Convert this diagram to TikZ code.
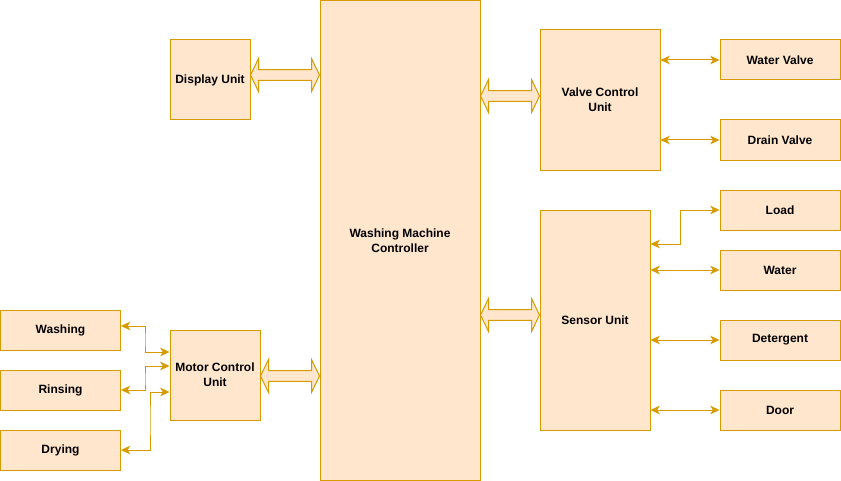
\documentclass[tikz,border=0pt]{standalone}
\usepackage{fontspec}
\setmainfont{Liberation Sans}
\usetikzlibrary{arrows.meta,calc}
\definecolor{ornline}{HTML}{D79B00}
\definecolor{ornfill}{HTML}{FFE6CC}
\begin{document}
\begin{tikzpicture}[x=0.75pt,y=-0.75pt,
    blk/.style={draw=ornline,fill=ornfill,line width=0.75pt,inner sep=0pt,align=center,
      font=\bfseries\fontsize{9}{11.25}\selectfont},
    link/.style={draw=ornline,line width=0.75pt,{Stealth[length=7pt,width=6.5pt,inset=2pt]}-{Stealth[length=7pt,width=6.5pt,inset=2pt]}},
    fat/.style={draw=ornline,fill=ornfill,line width=0.75pt,line join=miter,
      to path={let \p1=(\tikztostart), \p2=(\tikztotarget) in
        (\x1,\y1) -- ({\x1+6pt},{\y1+12.4pt}) -- ({\x1+6pt},{\y1+4.1pt})
        -- ({\x2-6pt},{\y1+4.1pt}) -- ({\x2-6pt},{\y1+12.4pt}) -- (\x2,\y1)
        -- ({\x2-6pt},{\y1-12.4pt}) -- ({\x2-6pt},{\y1-4.1pt})
        -- ({\x1+6pt},{\y1-4.1pt}) -- ({\x1+6pt},{\y1-12.4pt}) -- cycle}}]
  \useasboundingbox (0,0) rectangle (841,481);
  % centre
  \node[blk,minimum width=120pt,minimum height=360pt] (ctrl) at (400,240.5) {Washing Machine\\Controller};
  \node[blk,minimum width=60pt,minimum height=60pt] (disp) at (210,80) {Display Unit};
  \node[blk,minimum width=67.5pt,minimum height=67.5pt] (mcu) at (215,375) {Motor Control\\Unit};
  \node[blk,minimum width=90pt,minimum height=105pt] (vcu) at (600,100) {Valve Control\\Unit};
  \node[blk,minimum width=82.5pt,minimum height=165pt] (su) at (595,320) {Sensor Unit};
  % motor side
  \node[blk,minimum width=90pt,minimum height=30pt] (wash) at (60.5,330) {Washing};
  \node[blk,minimum width=90pt,minimum height=30pt] (rins) at (60.5,390) {Rinsing};
  \node[blk,minimum width=90pt,minimum height=30pt] (dry) at (60.5,450) {Drying};
  % valves and sensors
  \node[blk,minimum width=90pt,minimum height=30pt] (wv) at (780,60) {Water Valve};
  \node[blk,minimum width=90pt,minimum height=30pt] (dv) at (780,140) {Drain Valve};
  \node[blk,minimum width=90pt,minimum height=30pt] (load) at (780,210) {Load};
  \node[blk,minimum width=90pt,minimum height=30pt] (water) at (780,270) {Water};
  \node[blk,minimum width=90pt,minimum height=30pt] (det) at (780,340) {Detergent};
  \node[blk,minimum width=90pt,minimum height=30pt] (door) at (780,410) {Door};
  % buses
  \path[fat] (disp.east |- 0,75) to (ctrl.west |- 0,75);
  \path[fat] (mcu.east |- 0,376) to (ctrl.west |- 0,376);
  \path[fat] (ctrl.east |- 0,96) to (vcu.west |- 0,96);
  \path[fat] (ctrl.east |- 0,315) to (su.west |- 0,315);
  % links
  \draw[link] (wash.east |- 0,326) -| (145,340) |- (mcu.west |- 0,352);
  \draw[link] (rins.east) -| (145,380) |- (mcu.west |- 0,366);
  \draw[link] (dry.east) -| (150,420) |- (mcu.west |- 0,392);
  \draw[link] (vcu.east |- wv.west) -- (wv.west);
  \draw[link] (vcu.east |- dv.west) -- (dv.west);
  \draw[link] (su.east |- 0,244) -| (680,230) |- (load.west);
  \draw[link] (su.east |- 0,270) -- (water.west);
  \draw[link] (su.east |- det.west) -- (det.west);
  \draw[link] (su.east |- door.west) -- (door.west);
\end{tikzpicture}
\end{document}
